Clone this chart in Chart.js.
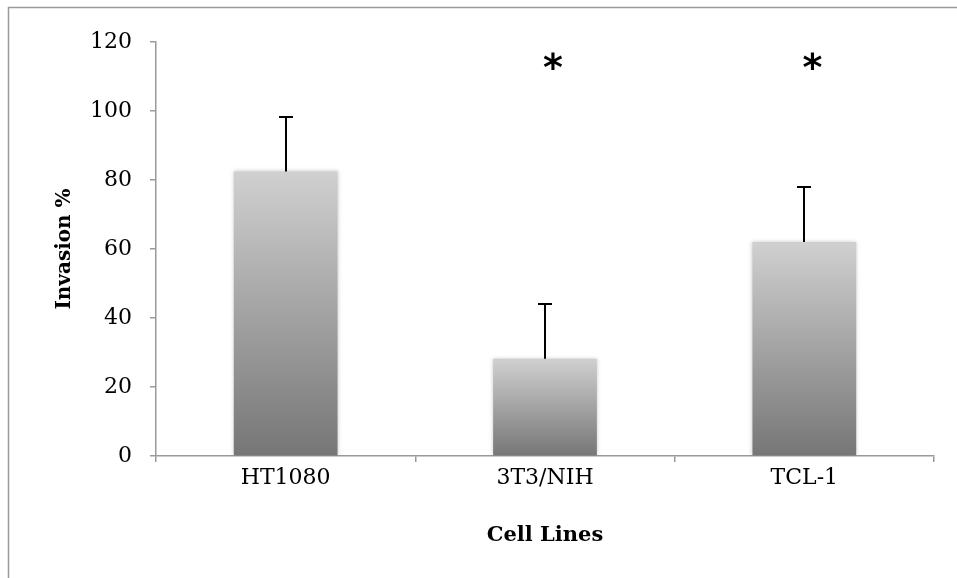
<!DOCTYPE html>
<html>
<head>
<meta charset="utf-8">
<script src="https://cdn.jsdelivr.net/npm/chart.js@4"></script>
<style>
  html, body { margin: 0; padding: 0; background: #fff; }
</style>
</head>
<body>
<canvas id="myChart" width="957" height="578"></canvas>
<script>
// Data
const cellLines = ['HT1080', '3T3/NIH', 'TCL-1'];
const invasion = [82.5, 28.2, 62.0];
const errorUp = [15.8, 15.8, 16.0];
const marks = ['', '*', '*'];
const markLevel = 114;
const yTicks = [0, 20, 40, 60, 80, 100, 120];

const serif = 'DejaVu Serif';

// Vertical grey gradient for each bar
function barGradient(context) {
    const chart = context.chart;
    if (!chart.chartArea) return '#aaa';
    const y = chart.scales.y;
    const top = y.getPixelForValue(context.raw);
    const bottom = y.getPixelForValue(0);
    const g = chart.ctx.createLinearGradient(0, top, 0, bottom);
    g.addColorStop(0, '#d0d0d0');
    g.addColorStop(1, '#767676');
    return g;
}

// Frame, bar shadow, error bars and asterisks
const extras = {
    id: 'extras',
    beforeDraw(chart) {
        const ctx = chart.ctx;
        ctx.save();
        ctx.strokeStyle = '#9a9a9a';
        ctx.lineWidth = 1.5;
        ctx.beginPath();
        ctx.moveTo(8.5, 578);
        ctx.lineTo(8.5, 7.5);
        ctx.lineTo(957, 7.5);
        ctx.stroke();
        ctx.restore();
    },
    beforeDatasetsDraw(chart) {
        const ctx = chart.ctx;
        ctx.save();
        ctx.shadowColor = 'rgba(0,0,0,0.22)';
        ctx.shadowBlur = 4;
    },
    afterDatasetsDraw(chart) {
        const ctx = chart.ctx;
        ctx.restore();
        const meta = chart.getDatasetMeta(0);
        const y = chart.scales.y;
        ctx.save();
        ctx.strokeStyle = '#000';
        ctx.lineWidth = 2;
        meta.data.forEach((bar, i) => {
            const x = Math.round(bar.x);
            const y0 = y.getPixelForValue(invasion[i]);
            const y1 = Math.round(y.getPixelForValue(invasion[i] + errorUp[i]));
            ctx.beginPath();
            ctx.moveTo(x, y0);
            ctx.lineTo(x, y1);
            ctx.moveTo(x - 7, y1);
            ctx.lineTo(x + 7, y1);
            ctx.stroke();
        });
        ctx.fillStyle = '#000';
        ctx.font = 'bold 38px "DejaVu Sans"';
        ctx.textAlign = 'center';
        ctx.textBaseline = 'alphabetic';
        meta.data.forEach((bar, i) => {
            if (!marks[i]) return;
            const yc = y.getPixelForValue(markLevel);
            ctx.fillText(marks[i], bar.x + 8, yc + 0.45 * 38);
        });
        ctx.restore();
    }
};

new Chart('myChart', {
    type: 'bar',
    data: {
        labels: cellLines,
        datasets: [{
            data: invasion,
            backgroundColor: barGradient,
            borderWidth: 0,
            barPercentage: 0.4,
            categoryPercentage: 1
        }]
    },
    options: {
        responsive: false,
        animation: false,
        layout: { padding: { top: 42, right: 23, left: 0, bottom: 0 } },
        plugins: {
            legend: { display: false },
            tooltip: { enabled: false }
        },
        scales: {
            x: {
                grid: { drawOnChartArea: false, drawTicks: true, tickLength: 6, color: '#9a9a9a', lineWidth: 1.5 },
                border: { color: '#9a9a9a', width: 1.5 },
                ticks: { color: '#000', font: { family: serif, size: 22 }, padding: 3 },
                title: {
                    display: true, text: 'Cell Lines', color: '#000',
                    font: { family: serif, size: 21, weight: 'bold' },
                    padding: { top: 0, bottom: 30 }
                },
                afterFit(scale) { scale.height = 122; }
            },
            y: {
                min: 0,
                max: 120,
                afterBuildTicks(scale) { scale.ticks = yTicks.map(v => ({ value: v })); },
                grid: { drawOnChartArea: false, drawTicks: true, tickLength: 6, color: '#9a9a9a', lineWidth: 1.5 },
                border: { color: '#9a9a9a', width: 1.5 },
                ticks: { color: '#000', font: { family: serif, size: 22 }, padding: 18 },
                title: {
                    display: true, text: 'Invasion %', color: '#000',
                    font: { family: serif, size: 20, weight: 'bold' },
                    padding: { top: 53, bottom: 0 }
                },
                afterFit(scale) { scale.width = 156; }
            }
        }
    },
    plugins: [extras]
});
</script>
</body>
</html>
